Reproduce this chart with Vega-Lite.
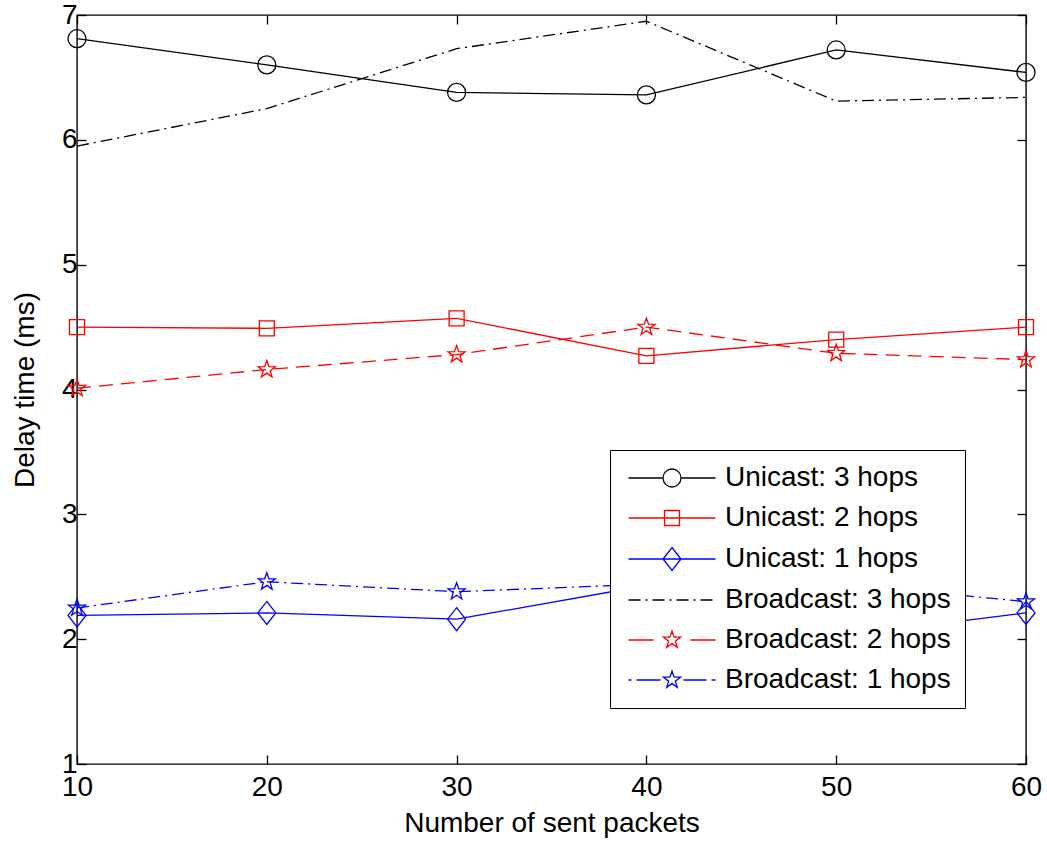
{
  "$schema": "https://vega.github.io/schema/vega-lite/v6.json",
  "width": 949,
  "height": 749,
  "autosize": {"type": "none"},
  "padding": {"left": 77, "top": 15, "right": 21, "bottom": 77},
  "background": "white",
  "config": {
    "view": {"stroke": "#000", "strokeWidth": 1.4},
    "font": "Liberation Sans",
    "axis": {
      "labelFont": "Liberation Sans",
      "labelFontSize": 28,
      "labelColor": "#000",
      "labelFlush": false,
      "titleFont": "Liberation Sans",
      "titleFontSize": 28,
      "titleFontWeight": "normal",
      "titleColor": "#000",
      "domain": false,
      "grid": false,
      "tickColor": "#000",
      "tickWidth": 1.3,
      "tickSize": -9
    },
    "point": {"filled": false, "strokeWidth": 1.3, "size": 400, "opacity": 1},
    "line": {"strokeWidth": 1.3}
  },
  "datasets": {
    "pts": [
      {"x": 10, "y": 6.81, "series": "Unicast: 3 hops"},
      {"x": 20, "y": 6.60, "series": "Unicast: 3 hops"},
      {"x": 30, "y": 6.38, "series": "Unicast: 3 hops"},
      {"x": 40, "y": 6.36, "series": "Unicast: 3 hops"},
      {"x": 50, "y": 6.72, "series": "Unicast: 3 hops"},
      {"x": 60, "y": 6.54, "series": "Unicast: 3 hops"},
      {"x": 10, "y": 4.50, "series": "Unicast: 2 hops"},
      {"x": 20, "y": 4.49, "series": "Unicast: 2 hops"},
      {"x": 30, "y": 4.57, "series": "Unicast: 2 hops"},
      {"x": 40, "y": 4.27, "series": "Unicast: 2 hops"},
      {"x": 50, "y": 4.40, "series": "Unicast: 2 hops"},
      {"x": 60, "y": 4.50, "series": "Unicast: 2 hops"},
      {"x": 10, "y": 2.19, "series": "Unicast: 1 hops"},
      {"x": 20, "y": 2.21, "series": "Unicast: 1 hops"},
      {"x": 30, "y": 2.16, "series": "Unicast: 1 hops"},
      {"x": 40, "y": 2.43, "series": "Unicast: 1 hops"},
      {"x": 50, "y": 2.02, "series": "Unicast: 1 hops"},
      {"x": 60, "y": 2.21, "series": "Unicast: 1 hops"},
      {"x": 10, "y": 5.95, "series": "Broadcast: 3 hops"},
      {"x": 20, "y": 6.25, "series": "Broadcast: 3 hops"},
      {"x": 30, "y": 6.73, "series": "Broadcast: 3 hops"},
      {"x": 40, "y": 6.95, "series": "Broadcast: 3 hops"},
      {"x": 50, "y": 6.31, "series": "Broadcast: 3 hops"},
      {"x": 60, "y": 6.34, "series": "Broadcast: 3 hops"},
      {"x": 10, "y": 4.01, "series": "Broadcast: 2 hops"},
      {"x": 20, "y": 4.16, "series": "Broadcast: 2 hops"},
      {"x": 30, "y": 4.28, "series": "Broadcast: 2 hops"},
      {"x": 40, "y": 4.50, "series": "Broadcast: 2 hops"},
      {"x": 50, "y": 4.29, "series": "Broadcast: 2 hops"},
      {"x": 60, "y": 4.24, "series": "Broadcast: 2 hops"},
      {"x": 10, "y": 2.25, "series": "Broadcast: 1 hops"},
      {"x": 20, "y": 2.46, "series": "Broadcast: 1 hops"},
      {"x": 30, "y": 2.38, "series": "Broadcast: 1 hops"},
      {"x": 40, "y": 2.44, "series": "Broadcast: 1 hops"},
      {"x": 50, "y": 2.45, "series": "Broadcast: 1 hops"},
      {"x": 60, "y": 2.30, "series": "Broadcast: 1 hops"}
    ]
  },
  "data": {"name": "pts"},
  "layer": [
    {
      "transform": [{"filter": "indexof(datum.series, 'Unicast') == 0"}],
      "mark": {"type": "line"},
      "encoding": {
        "x": {
          "field": "x", "type": "quantitative",
          "scale": {"domain": [10, 60], "nice": false, "zero": false},
          "axis": {"values": [10, 20, 30, 40, 50, 60], "title": "Number of sent packets", "labelPadding": 18, "titlePadding": 8, "orient": "bottom"}
        },
        "y": {
          "field": "y", "type": "quantitative",
          "scale": {"domain": [1, 7], "nice": false, "zero": false},
          "axis": {"values": [1, 2, 3, 4, 5, 6, 7], "title": "Delay time (ms)", "labelPadding": 9, "titlePadding": 22, "orient": "left"}
        },
        "stroke": {
          "field": "series", "type": "nominal",
          "scale": {
            "domain": ["Unicast: 3 hops", "Unicast: 2 hops", "Unicast: 1 hops", "Broadcast: 3 hops", "Broadcast: 2 hops", "Broadcast: 1 hops"],
            "range": ["#000000", "#ff0000", "#0000ff", "#000000", "#ff0000", "#0000ff"]
          },
          "legend": {
            "title": null,
            "orient": "none",
            "legendX": 533,
            "legendY": 435,
            "strokeColor": "#000",
            "fillColor": "#fff",
            "padding": 14,
            "rowPadding": 12,
            "labelFont": "Liberation Sans",
            "labelFontSize": 28,
            "labelColor": "#000",
            "labelOffset": 39,
            "symbolOffset": 34,
            "symbolSize": 400,
            "symbolStrokeWidth": 1.3,
            "symbolFillColor": "transparent",
            "labelLimit": 400,
            "symbolType": {"expr": "datum.value == 'Unicast: 3 hops' ? 'M-4.35,0H-0.9M0.9,0H4.35M-0.9,0A0.9,0.9,0,1,0,0.9,0A0.9,0.9,0,1,0,-0.9,0Z' : datum.value == 'Unicast: 2 hops' ? 'M-4.35,0H4.35M-0.75,-0.75H0.75V0.75H-0.75Z' : datum.value == 'Unicast: 1 hops' ? 'M-4.35,0H4.35M0,-1.15L0.9,0L0,1.15L-0.9,0Z' : datum.value == 'Broadcast: 3 hops' ? 'M-4.35,0H-3.15M-2.65,0H-2.45M-1.95,0H-0.75M-0.25,0H-0.05M0.45,0H1.65M2.15,0H2.35M2.85,0H4.05' : datum.value == 'Broadcast: 2 hops' ? 'M-4.35,0H-1.85M1.85,0H4.35M0,-0.9L0.212,-0.291L0.856,-0.278L0.342,0.111L0.529,0.728L0,0.36L-0.529,0.728L-0.342,0.111L-0.856,-0.278L-0.212,-0.291Z' : 'M-4.35,0H-4.05M-3.55,0H-1.15M1.15,0H3.45M3.95,0H4.35M0,-0.9L0.212,-0.291L0.856,-0.278L0.342,0.111L0.529,0.728L0,0.36L-0.529,0.728L-0.342,0.111L-0.856,-0.278L-0.212,-0.291Z'"}
          }
        }
      }
    },
    {
      "transform": [{"filter": "datum.series == 'Broadcast: 3 hops'"}],
      "mark": {"type": "line", "color": "#000000", "strokeDash": [12, 5, 2, 5]},
      "encoding": {
        "x": {"field": "x", "type": "quantitative", "axis": {"values": [10, 20, 30, 40, 50, 60], "labels": false, "title": null, "orient": "top"}},
        "y": {"field": "y", "type": "quantitative", "axis": {"values": [1, 2, 3, 4, 5, 6, 7], "labels": false, "title": null, "orient": "right"}}
      }
    },
    {
      "transform": [{"filter": "datum.series == 'Broadcast: 2 hops'"}],
      "mark": {"type": "line", "color": "#ff0000", "strokeDash": [14, 8]},
      "encoding": {
        "x": {"field": "x", "type": "quantitative", "axis": null},
        "y": {"field": "y", "type": "quantitative", "axis": null}
      }
    },
    {
      "transform": [{"filter": "datum.series == 'Broadcast: 1 hops'"}],
      "mark": {"type": "line", "color": "#0000ff", "strokeDash": [12, 5, 2, 5]},
      "encoding": {
        "x": {"field": "x", "type": "quantitative", "axis": null},
        "y": {"field": "y", "type": "quantitative", "axis": null}
      }
    },
    {
      "transform": [{"filter": "datum.series == 'Unicast: 3 hops'"}],
      "mark": {"type": "point", "color": "#000000", "shape": "M-0.9,0A0.9,0.9,0,1,0,0.9,0A0.9,0.9,0,1,0,-0.9,0Z"},
      "encoding": {
        "x": {"field": "x", "type": "quantitative", "axis": null},
        "y": {"field": "y", "type": "quantitative", "axis": null}
      }
    },
    {
      "transform": [{"filter": "datum.series == 'Unicast: 2 hops'"}],
      "mark": {"type": "point", "color": "#ff0000", "shape": "M-0.75,-0.75H0.75V0.75H-0.75Z"},
      "encoding": {
        "x": {"field": "x", "type": "quantitative", "axis": null},
        "y": {"field": "y", "type": "quantitative", "axis": null}
      }
    },
    {
      "transform": [{"filter": "datum.series == 'Unicast: 1 hops'"}],
      "mark": {"type": "point", "color": "#0000ff", "shape": "M0,-1.15L0.9,0L0,1.15L-0.9,0Z"},
      "encoding": {
        "x": {"field": "x", "type": "quantitative", "axis": null},
        "y": {"field": "y", "type": "quantitative", "axis": null}
      }
    },
    {
      "transform": [{"filter": "datum.series == 'Broadcast: 2 hops'"}],
      "mark": {"type": "point", "color": "#ff0000", "shape": "M0,-0.9L0.212,-0.291L0.856,-0.278L0.342,0.111L0.529,0.728L0,0.36L-0.529,0.728L-0.342,0.111L-0.856,-0.278L-0.212,-0.291Z"},
      "encoding": {
        "x": {"field": "x", "type": "quantitative", "axis": null},
        "y": {"field": "y", "type": "quantitative", "axis": null}
      }
    },
    {
      "transform": [{"filter": "datum.series == 'Broadcast: 1 hops'"}],
      "mark": {"type": "point", "color": "#0000ff", "shape": "M0,-0.9L0.212,-0.291L0.856,-0.278L0.342,0.111L0.529,0.728L0,0.36L-0.529,0.728L-0.342,0.111L-0.856,-0.278L-0.212,-0.291Z"},
      "encoding": {
        "x": {"field": "x", "type": "quantitative", "axis": null},
        "y": {"field": "y", "type": "quantitative", "axis": null}
      }
    }
  ],
  "resolve": {"axis": {"x": "independent", "y": "independent"}}
}
